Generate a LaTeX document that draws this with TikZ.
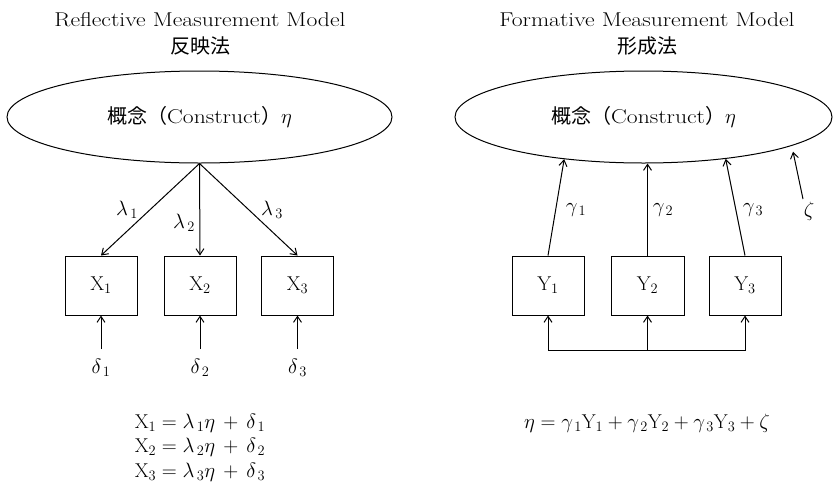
\documentclass[tikz,border=0pt]{standalone}
\usepackage{fontspec}
\newfontfamily\wide{Latin Modern Roman}[FakeStretch=1.18]
\newfontfamily\cjk{Noto Sans CJK JP}
\usetikzlibrary{shapes.geometric,arrows.meta}
\begin{document}
\begin{tikzpicture}[x=1pt,y=-1pt,
  fs/.style={font=\fontsize{20}{24}\selectfont},
  fw/.style={font=\fontsize{20}{24}\selectfont\wide},
  ell/.style={ellipse, draw, line width=1pt, inner sep=0pt, fw},
  box/.style={draw, line width=1pt, minimum width=72pt, minimum height=59pt, inner sep=0pt, fs},
  arr/.style={-{Straight Barb[length=6pt,width=8pt]}, line width=1pt},
  arrb/.style={{Straight Barb[length=6pt,width=8pt]}-{Straight Barb[length=6pt,width=8pt]}, line width=1pt},
  lab/.style={fs, inner sep=0pt}]
\useasboundingbox (0,0) rectangle (833,483);
% ---------- left: reflective ----------
\node[fw] (t1) at (200,20) {Reflective Measurement Model};
\node[fs] (t1j) at (200,46) {\cjk 反映法};
\node[ell, minimum width=385pt, minimum height=92pt] (L) at (199.5,117) {{\cjk 概念（}Construct{\cjk ）}$\eta$};
\node[box] (X1) at (101,285.5) {$\mathrm{X}_1$};
\node[box] (X2) at (200,285.5) {$\mathrm{X}_2$};
\node[box] (X3) at (297.5,285.5) {$\mathrm{X}_3$};
\draw[arr] (L.south) -- (X1.north);
\draw[arr] (L.south) -- (X2.north);
\draw[arr] (L.south) -- (X3.north);
\node[lab] (l1) at (127,210) {$\lambda_{\,1}$};
\node[lab] (l2) at (184,223) {$\lambda_{\,2}$};
\node[lab] (l3) at (272,210) {$\lambda_{\,3}$};
\coordinate (c1) at (101,349);
\coordinate (c2) at (200,349);
\coordinate (c3) at (297.5,349);
\draw[arr] (c1) -- (X1.south);
\draw[arr] (c2) -- (X2.south);
\draw[arr] (c3) -- (X3.south);
\node[lab] (d1) at (101,368) {$\delta_{\,1}$};
\node[lab] (d2) at (200,368) {$\delta_{\,2}$};
\node[lab] (d3) at (297.5,368) {$\delta_{\,3}$};
\node[lab] (e1) at (200,423) {$\mathrm{X}_1 = \lambda_{\,1}\eta\, + \,\delta_{\,1}$};
\node[lab] (e2) at (200,447.5) {$\mathrm{X}_2 = \lambda_{\,2}\eta\, + \,\delta_{\,2}$};
\node[lab] (e3) at (200,472) {$\mathrm{X}_3 = \lambda_{\,3}\eta\, + \,\delta_{\,3}$};
% ---------- right: formative ----------
\node[fw] (t2) at (647,20) {Formative Measurement Model};
\node[fs] (t2j) at (647,46) {\cjk 形成法};
\node[ell, minimum width=377pt, minimum height=92pt] (R) at (643.5,117) {{\cjk 概念（}Construct{\cjk ）}$\eta$};
\node[box] (Y1) at (548,285.5) {$\mathrm{Y}_1$};
\node[box, minimum width=73pt] (Y2) at (647.5,285.5) {$\mathrm{Y}_2$};
\node[box] (Y3) at (745,285.5) {$\mathrm{Y}_3$};
\draw[arr] (Y1.north) -- (R.208.8);
\draw[arr] (Y2.north) -- (Y2.north |- R.south);
\draw[arr] (Y3.north) -- (R.333.4);
\node[lab] (g1) at (576,210) {$\gamma_{\,1}$};
\node[lab] (g2) at (663,210) {$\gamma_{\,2}$};
\node[lab] (g3) at (753,210) {$\gamma_{\,3}$};
\coordinate (z0) at (803,199);
\draw[arr, shorten >=6pt] (z0) -- (R.349.6);
\node[lab] (z) at (809,211) {$\zeta$};
\coordinate (b) at (647.5,350);
\draw[arrb] (Y1.south) -- (Y1.south |- b) -- (Y3.south |- b) -- (Y3.south);
\draw[arr] (b) -- (Y2.south);
\node[lab] (e4) at (647,423) {$\eta = \gamma_{\,1}\mathrm{Y}_1 + \gamma_{\,2}\mathrm{Y}_2 + \gamma_{\,3}\mathrm{Y}_3 + \zeta$};
\end{tikzpicture}
\end{document}
